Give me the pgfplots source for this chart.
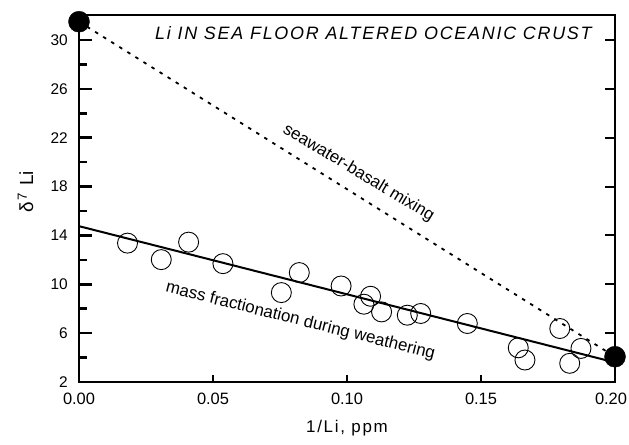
\documentclass[border=0pt]{standalone}
\usepackage{pgfplots}
\pgfplotsset{compat=1.18}
\usepackage{fontspec}
\setmainfont{Liberation Sans}
\begin{document}
\begin{tikzpicture}
\useasboundingbox (0,0) rectangle (629bp,445bp);
\pgfplotsset{base/.style={at={(79bp,63bp)}, anchor=south west, scale only axis,
  width=536bp, height=367bp, xmin=0, xmax=0.2, ymin=2, ymax=32.05,
  clip=false, axis line style={draw=none}, tick style={black}}}
% right-hand y ticks
\begin{axis}[base, xtick=\empty, ytick={2,6,...,30}, ytick pos=right, yticklabels={},
  tick align=inside, major tick length=10bp, ytick style={line width=2bp}]
\end{axis}
% x ticks and labels
\begin{axis}[base, ytick=\empty, xtick={0,0.05,0.1,0.15}, xtick pos=bottom,
  extra x ticks={0.2}, extra x tick style={xticklabel style={xshift=-4bp}},
  tick align=inside, major tick length=7bp, xtick style={line width=2.5bp},
  xticklabel={\pgfmathprintnumber[fixed,fixed zerofill,precision=2,assume math mode=true]{\tick}},
  xticklabel style={font=\fontsize{16.5}{16.5}\selectfont, inner sep=0pt, yshift=-11bp}]
\end{axis}
% main axis
\begin{axis}[base, xtick=\empty, ytick={2,6,...,30}, minor ytick={4,8,...,28}, ytick pos=left,
  tick align=inside, major tick length=12.7bp, minor tick length=7.7bp,
  ytick style={line width=2.5bp},
  yticklabel style={font=\fontsize{15.5}{15.5}\selectfont, inner sep=0pt, xshift=-11bp},
  /pgf/number format/assume math mode=true]
\draw[line width=2.5bp, line cap=rect] (rel axis cs:0,1) -- (rel axis cs:0,0) -- (rel axis cs:1,0);
\draw[line width=1.7bp] (rel axis cs:0,1) -- (rel axis cs:1,1) -- (rel axis cs:1,0);
\addplot[black, line width=1.8bp, dash pattern=on 3.5bp off 6bp] coordinates {(0,31.5) (0.2,4.07)};
\addplot[black, line width=2bp] coordinates {(0,14.76) (0.2,3.6)};
\addplot[only marks, mark=o, mark size=10bp, black, mark options={line width=0.9bp}] coordinates {
(0.0181,13.37) (0.0307,12.02) (0.0409,13.45) (0.0537,11.69) (0.0755,9.32) (0.0822,10.96)
(0.0978,9.86) (0.1088,9.02) (0.1063,8.37) (0.1129,7.74) (0.1225,7.47) (0.1275,7.61)
(0.1449,6.79) (0.1639,4.80) (0.1664,3.80) (0.1794,6.38) (0.1873,4.75) (0.1831,3.53)};
\addplot[only marks, mark=*, mark size=10.5bp, black] coordinates {(0,31.5) (0.2,4.07)};
\node[rotate=-31, font=\fontsize{17}{17}\selectfont] at (axis cs:0.1043,19.1) {seawater-basalt mixing};
\node[rotate=-14, font=\fontsize{17}{17}\selectfont] at (axis cs:0.0826,6.98) {mass fractionation during weathering};
\end{axis}
\node[anchor=base west, font=\itshape\fontsize{18}{18}\selectfont\addfontfeature{LetterSpace=9.7}, inner sep=0pt] at (155bp,405bp) {Li IN SEA FLOOR ALTERED OCEANIC CRUST};
\node[anchor=base, font=\fontsize{17}{17}\selectfont\addfontfeature{LetterSpace=10}, inner sep=0pt] at (347bp,12.3bp) {1/Li, ppm};
\node[rotate=90, anchor=base, font=\fontsize{19}{19}\selectfont, inner sep=0pt] at (33bp,253bp) {δ\hspace{1.5bp}\textsuperscript{7}\hspace{7bp}Li};
\end{tikzpicture}
\end{document}
